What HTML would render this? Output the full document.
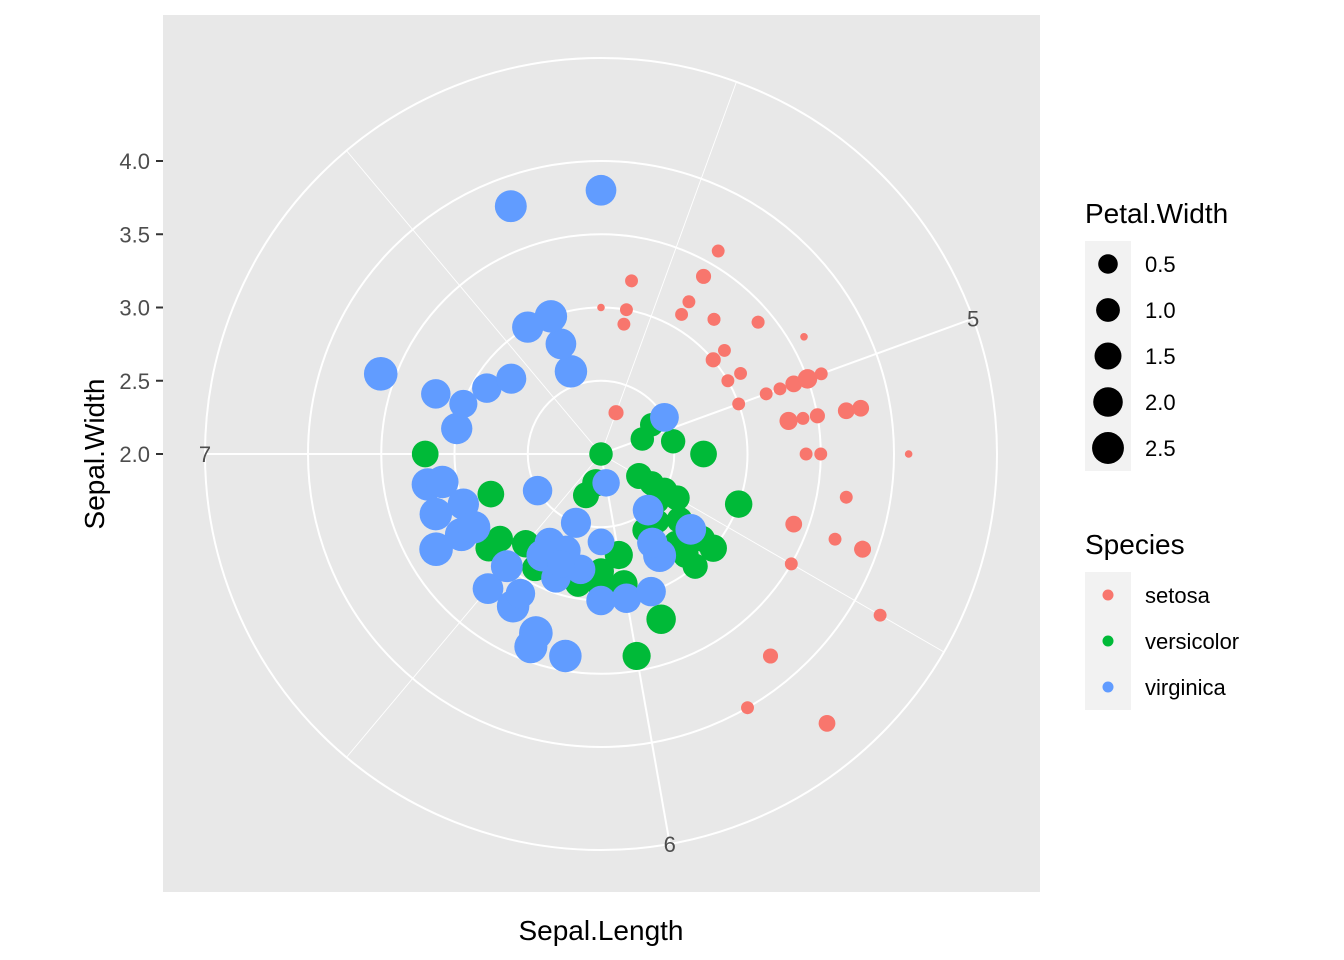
<!DOCTYPE html>
<html><head><meta charset="utf-8"><style>
body{margin:0;background:#fff;}
svg{display:block;font-family:"Liberation Sans",Arial,sans-serif;}
</style></head><body>
<svg id="chart" width="1344" height="960" viewBox="0 0 1344 960">
<rect x="0" y="0" width="1344" height="960" fill="#fff"/>
<rect x="163" y="15" width="877" height="877" fill="#E8E8E8"/>
<g id="grid"></g>
<g id="points"></g>
<g id="axes"></g>
<text x="601" y="940" font-size="28" text-anchor="middle" fill="#000">Sepal.Length</text>
<text transform="translate(104,454) rotate(-90)" font-size="28" text-anchor="middle" fill="#000">Sepal.Width</text>
<g id="legend"></g>
</svg>
<script>
const setosaSL=[5.1,4.9,4.7,4.6,5.0,5.4,4.6,5.0,4.4,4.9,5.4,4.8,4.8,4.3,5.8,5.7,5.4,5.1,5.7,5.1,5.4,5.1,4.6,5.1,4.8,5.0,5.0,5.2,5.2,4.7,4.8,5.4,5.2,5.5,4.9,5.0,5.5,4.9,4.4,5.1,5.0,4.5,4.4,5.0,5.1,4.8,5.1,4.6,5.3,5.0];
const setosaSW=[3.5,3.0,3.2,3.1,3.6,3.9,3.4,3.4,2.9,3.1,3.7,3.4,3.0,3.0,4.0,4.4,3.9,3.5,3.8,3.8,3.4,3.7,3.6,3.3,3.4,3.0,3.4,3.5,3.4,3.2,3.1,3.4,4.1,4.2,3.1,3.2,3.5,3.6,3.0,3.4,3.5,2.3,3.2,3.5,3.8,3.0,3.8,3.2,3.7,3.3];
const setosaPW=[0.2,0.2,0.2,0.2,0.2,0.4,0.3,0.2,0.2,0.1,0.2,0.2,0.1,0.1,0.2,0.4,0.4,0.3,0.3,0.3,0.2,0.4,0.2,0.5,0.2,0.2,0.4,0.2,0.2,0.2,0.2,0.4,0.1,0.2,0.2,0.2,0.2,0.1,0.2,0.2,0.3,0.3,0.2,0.6,0.4,0.3,0.2,0.2,0.2,0.2];
const versiSL=[7.0,6.4,6.9,5.5,6.5,5.7,6.3,4.9,6.6,5.2,5.0,5.9,6.0,6.1,5.6,6.7,5.6,5.8,6.2,5.6,5.9,6.1,6.3,6.1,6.4,6.6,6.8,6.7,6.0,5.7,5.5,5.5,5.8,6.0,5.4,6.0,6.7,6.3,5.6,5.5,5.5,6.1,5.8,5.0,5.6,5.7,5.7,6.2,5.1,5.7];
const versiSW=[3.2,3.2,3.1,2.3,2.8,2.8,3.3,2.4,2.9,2.7,2.0,3.0,2.2,2.9,2.9,3.1,3.0,2.7,2.2,2.5,3.2,2.8,2.5,2.8,2.9,3.0,2.8,3.0,2.9,2.6,2.4,2.4,2.7,2.7,3.0,3.4,3.1,2.3,3.0,2.5,2.6,3.0,2.6,2.3,2.7,3.0,2.9,2.9,2.5,2.8];
const versiPW=[1.4,1.5,1.5,1.3,1.5,1.3,1.6,1.0,1.3,1.4,1.0,1.5,1.0,1.4,1.3,1.4,1.5,1.0,1.5,1.1,1.8,1.3,1.5,1.2,1.3,1.4,1.4,1.7,1.5,1.0,1.1,1.0,1.2,1.6,1.5,1.6,1.5,1.3,1.3,1.3,1.2,1.4,1.2,1.0,1.3,1.2,1.3,1.3,1.1,1.3];
const virgSL=[6.3,5.8,7.1,6.3,6.5,7.6,4.9,7.3,6.7,7.2,6.5,6.4,6.8,5.7,5.8,6.4,6.5,7.7,7.7,6.0,6.9,5.6,7.7,6.3,6.7,7.2,6.2,6.1,6.4,7.2,7.4,7.9,6.4,6.3,6.1,7.7,6.3,6.4,6.0,6.9,6.7,6.9,5.8,6.8,6.7,6.7,6.3,6.5,6.2,5.9];
const virgSW=[3.3,2.7,3.0,2.9,3.0,3.0,2.5,2.9,2.5,3.6,3.2,2.7,3.0,2.5,2.8,3.2,3.0,3.8,2.6,2.2,3.2,2.8,2.8,2.7,3.3,3.2,2.8,3.0,2.8,3.0,2.8,3.8,2.8,2.8,2.6,3.0,3.4,3.1,3.0,3.1,3.1,3.1,2.7,3.2,3.3,3.0,2.5,3.0,3.4,3.0];
const virgPW=[2.5,1.9,2.1,1.8,2.2,2.1,1.7,1.8,1.8,2.5,2.0,1.9,2.1,2.0,2.4,2.3,1.8,2.2,2.3,1.5,2.3,2.0,2.0,1.8,2.1,1.8,1.8,1.8,2.1,1.6,1.9,2.0,2.2,1.5,1.4,2.3,2.4,1.8,1.8,2.1,2.4,2.3,1.9,2.3,2.5,2.3,1.9,2.0,2.3,1.8];
const rTicks=[2.5,3.0,3.5,4.0];
const rTickLabels=["2.0","2.5","3.0","3.5","4.0"];
const thetaMajor=[5,6,7];
const thetaMinor=[4.5,5.5,6.5,7.5];
const sizeBreaks=[0.5,1.0,1.5,2.0,2.5];
const speciesNames=["setosa","versicolor","virginica"];
const speciesColors=["#F8766D","#00BA38","#619CFF"];

const NS="http://www.w3.org/2000/svg";
const CX=601,CY=454,RUNIT=146.5,ROUT=396;
const SLMIN=4.3,SLMAX=7.9,SWMIN=2.0,PWMIN=0.1,PWMAX=2.5;
function rScale(v){return (v-SWMIN)*RUNIT;}
function thetaScale(v){return (v-SLMIN)/(SLMAX-SLMIN)*2*Math.PI;}
function polar(t,r){return [CX+r*Math.sin(t),CY-r*Math.cos(t)];}
function sizeScale(w){return 3.8+13*Math.sqrt(Math.max(0,(w-PWMIN)/(PWMAX-PWMIN)));}
function mk(tag,attrs,parent){const e=document.createElementNS(NS,tag);for(const k in attrs)e.setAttribute(k,attrs[k]);parent.appendChild(e);return e;}

const grid=document.getElementById('grid');
rTicks.forEach(v=>{
  const c=mk('circle',{cx:CX,cy:CY,r:rScale(v),fill:'none',stroke:'#fff','stroke-width':2},grid);
  
  
});
const oc=mk('circle',{cx:CX,cy:CY,r:ROUT,fill:'none',stroke:'#fff','stroke-width':2},grid);


thetaMinor.forEach(v=>{
  const p=polar(thetaScale(v),ROUT);
  const l=mk('line',{x1:CX,y1:CY,x2:p[0],y2:p[1],stroke:'#fff','stroke-width':0.9},grid);
  
  
});
thetaMajor.forEach(v=>{
  const t=thetaScale(v);
  const p=polar(t,ROUT);
  const l=mk('line',{x1:CX,y1:CY,x2:p[0],y2:p[1],stroke:'#fff','stroke-width':2},grid);
  
  
  const q=polar(t,ROUT);
  const tx=mk('text',{x:q[0],y:q[1]+8,'font-size':22,'text-anchor':'middle',fill:'#4D4D4D'},grid);
  tx.textContent=String(v);
  
  
});

const pts=document.getElementById('points');
const series=[[setosaSL,setosaSW,setosaPW],[versiSL,versiSW,versiPW],[virgSL,virgSW,virgPW]];
series.forEach((s,si)=>{
  s[0].forEach((sl,i)=>{
    const p=polar(thetaScale(sl),rScale(s[1][i]));
    const c=mk('circle',{cx:p[0],cy:p[1],r:sizeScale(s[2][i]),fill:speciesColors[si]},pts);
    
    
  });
});

const axes=document.getElementById('axes');
rTickLabels.forEach(lbl=>{
  const y=CY-rScale(parseFloat(lbl));
  const t=mk('line',{x1:156,y1:y,x2:163,y2:y,stroke:'#333','stroke-width':2},axes);
  
  
  const tx=mk('text',{x:150,y:y+8,'font-size':22,'text-anchor':'end',fill:'#4D4D4D'},axes);
  tx.textContent=lbl;
  
  
});

const lg=document.getElementById('legend');
const t1=mk('text',{x:1085,y:223,'font-size':28,fill:'#000'},lg);
t1.textContent='Petal.Width';


sizeBreaks.forEach((b,i)=>{
  const y=264+46*i;
  const k=mk('rect',{x:1085,y:y-23,width:46,height:46,fill:'#F2F2F2'},lg);
  
  
  const c=mk('circle',{cx:1108,cy:y,r:sizeScale(b)*0.8+2.5,fill:'#000'},lg);
  
  
  const tx=mk('text',{x:1145,y:y+8,'font-size':22,fill:'#000'},lg);
  tx.textContent=b.toFixed(1);
  
  
});
const t2=mk('text',{x:1085,y:554,'font-size':28,fill:'#000'},lg);
t2.textContent='Species';


speciesNames.forEach((n,i)=>{
  const y=595+46*i;
  const k=mk('rect',{x:1085,y:y-23,width:46,height:46,fill:'#F2F2F2'},lg);
  
  
  const c=mk('circle',{cx:1108,cy:y,r:5.5,fill:speciesColors[i]},lg);
  
  
  const tx=mk('text',{x:1145,y:y+8,'font-size':22,fill:'#000'},lg);
  tx.textContent=n;
  
  
});
</script>
</body></html>
